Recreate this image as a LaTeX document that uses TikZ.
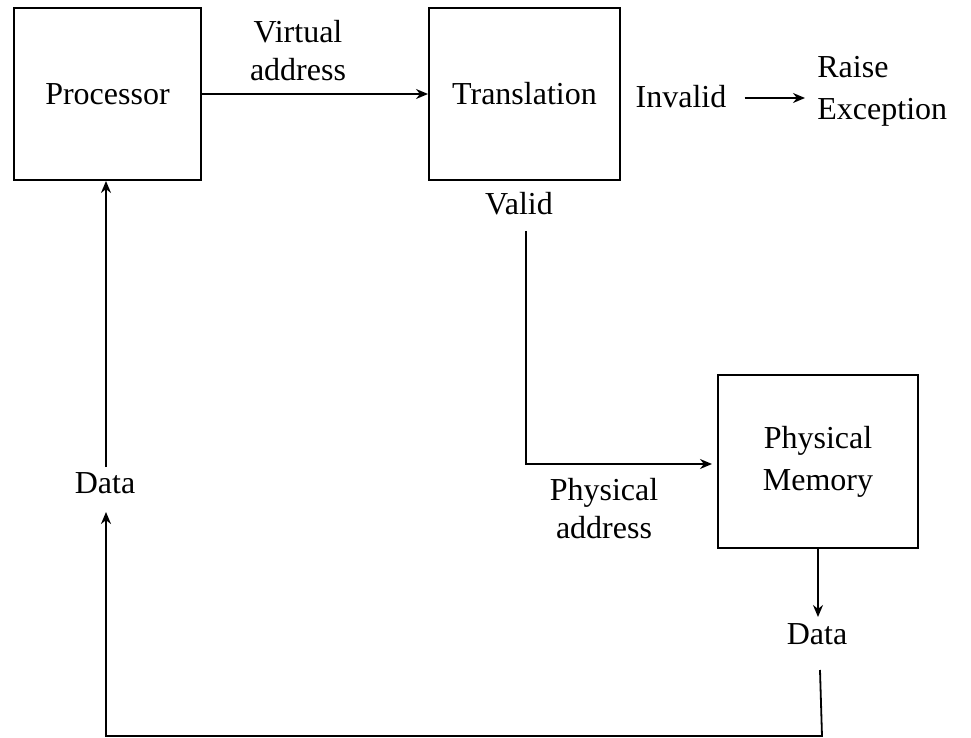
\documentclass[tikz,border=0pt]{standalone}
\usepackage{fontspec}
\setmainfont{Liberation Serif}
\usetikzlibrary{arrows.meta}
\begin{document}
\begin{tikzpicture}[x=0.5pt,y=-0.5pt,
  every node/.style={font=\fontsize{16}{19}\selectfont},
  wide/.style={font=\fontsize{16}{21}\selectfont},
  box/.style={draw,line width=1pt,inner sep=0pt,align=center},
  label/.style={inner sep=0pt,align=center},
  conn/.style={line width=0.9pt},
  arr/.style={conn,-{Stealth[length=6pt,width=5pt]}}]
\useasboundingbox (0,0) rectangle (971,738);

% blocks
\node[box,minimum width=93.5pt,minimum height=86pt] (proc) at (107.5,94) {Processor};
\node[box,minimum width=95.5pt,minimum height=86pt] (trans) at (524.5,94) {Translation};
\node[box,wide,minimum width=100pt,minimum height=86.5pt] (pm) at (818,461.5) {Physical\\Memory};

% labels
\node[label] (va) at (298,51) {Virtual\\address};
\node[label] (invalid) at (681,97) {Invalid};
\node[label,wide,anchor=west,align=left] (raise) at (817,91) {Raise\\Exception};
\node[label] (valid) at (519,204) {Valid};
\node[label] (pa) at (604,509) {Physical\\address};
\node[label] (data2) at (817,634) {Data};
\node[label] (data1) at (105,483) {Data};

% free ends and bends
\coordinate (vtop) at (526,231);
\coordinate (vbend) at (526,464);
\coordinate (dtop) at (820,670);
\coordinate (rcorner) at (822,736);
\coordinate (lcorner) at (106,736);
\coordinate (dbot) at (106,467);

% connectors
\draw[arr] (proc.east) -- (trans.west);
\draw[arr,shorten <=9pt,shorten >=6pt] (invalid.east |- 0,98) -- (raise.west |- 0,98);
\draw[arr,shorten >=2.5pt] (vtop) -- (vbend) -- (vbend -| pm.west);
\draw[arr] (pm.south) -- ([yshift=-34pt]pm.south);
\draw[arr] (dtop) -- (rcorner) -- (lcorner) -- ([yshift=-9pt]data1.south -| lcorner);
\draw[arr] (dbot) -- (dbot |- proc.south);
\end{tikzpicture}
\end{document}
